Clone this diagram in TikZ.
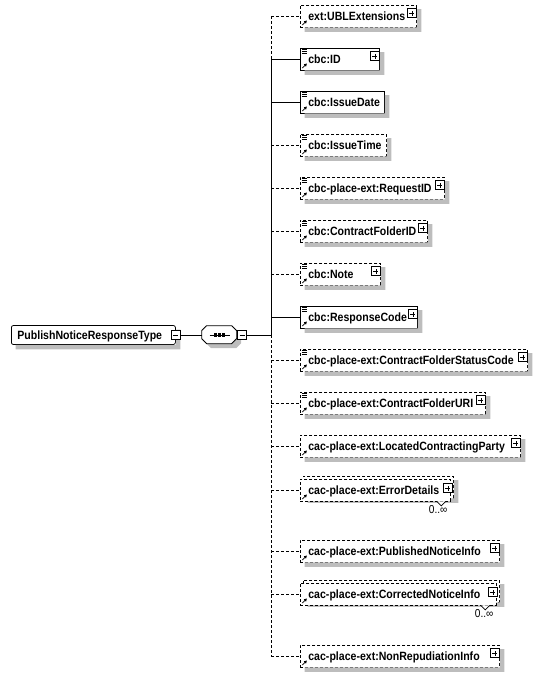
\documentclass[tikz,border=0pt]{standalone}
\usepackage{fontspec}
\setmainfont{Liberation Sans}[FakeStretch=0.88]
\usetikzlibrary{arrows.meta}
\definecolor{shadowgray}{rgb}{0.74,0.74,0.74}

\begin{document}
\begin{tikzpicture}[x=1pt, y=-1pt, line width=.75pt,
        font=\fontsize{12}{14}\selectfont\bfseries,
        optline/.style={dash pattern=on 3pt off 2pt},
        req/.style={draw, fill=white, anchor=west, inner sep=0pt, minimum height=22pt},
        opt/.style={req, optline},
        ref/.style={path picture={
            \draw[solid, line width=.8pt, -{Triangle[length=2.8pt, width=3pt]}]
                ([shift={(2pt,2pt)}]path picture bounding box.south west) -- ++(4.5pt,4.5pt);}},
        simple/.style={path picture={
            \draw[solid, line width=.8pt, -{Triangle[length=2.8pt, width=3pt]}]
                ([shift={(2pt,2pt)}]path picture bounding box.south west) -- ++(4.5pt,4.5pt);
            \foreach \k in {1.6,3.3,5} \draw[solid, line width=.6pt]
                ([shift={(1.5pt,-\k pt)}]path picture bounding box.north west) -- ++(5pt,0pt);}},
        lbl/.style={anchor=west, inner sep=0pt, text height=8.6pt, text depth=0pt},
        mult/.style={anchor=north east, inner sep=0pt, font=\fontsize{11.5}{13}\selectfont},
        shd/.style={fill=shadowgray, draw=none},
        pbox/.style={draw, solid, fill=white, line width=.6pt, minimum size=9pt, inner sep=0pt},
        plus/.style={pbox, anchor=east, path picture={
            \draw[line width=.6pt] ([xshift=2pt]path picture bounding box.west) -- ([xshift=-2pt]path picture bounding box.east)
                ([yshift=2pt]path picture bounding box.south) -- ([yshift=-2pt]path picture bounding box.north);}},
        minus/.style={pbox, path picture={
            \draw[line width=.6pt] ([xshift=2pt]path picture bounding box.west) -- ([xshift=-2pt]path picture bounding box.east);}},
        notch/.style={draw, solid, fill=white, line width=.6pt}]
    \useasboundingbox (0,0) rectangle (541,675);

    % root type and sequence
    \node[draw, fill=white, rounded corners=2pt, anchor=west, inner sep=0pt,
        minimum width=164pt, minimum height=19pt] (root) at (11,335) {};

    \node[inner sep=0pt, minimum width=35pt, minimum height=18pt] (seq) at (219.5,335) {};
    \path[shd] ([shift={(4.5pt,-4.5pt)}]seq.north west) ++(5pt,0pt) -- ++(25pt,0pt) -- ++(5pt,-5pt) -- ++(0pt,-8pt)
        -- ++(-5pt,-5pt) -- ++(-25pt,0pt) -- ++(-5pt,5pt) -- ++(0pt,8pt) -- cycle;
    \draw[fill=white] (seq.north west) ++(5pt,0pt) -- ++(25pt,0pt) -- ++(5pt,-5pt) -- ++(0pt,-8pt)
        -- ++(-5pt,-5pt) -- ++(-25pt,0pt) -- ++(-5pt,5pt) -- ++(0pt,8pt) -- cycle;
    \draw[line width=1pt] ([xshift=-10pt]seq.center) -- ([xshift=10pt]seq.center);
    \foreach \d in {-4,0,4}
        \fill ([xshift=\d pt]seq.center) +(-1.6pt,-1.6pt) rectangle +(1.6pt,1.6pt);

    \coordinate (spine) at (271,0);

    % children
    \node[opt, ref, minimum width=116pt] (ext) at (300,16) {};
    \node[req, simple, minimum width=79pt] (id) at (300,59) {};
    \node[req, simple, minimum width=84pt] (date) at (300,102) {};
    \node[opt, simple, minimum width=86pt] (time) at (300,145) {};
    \node[opt, simple, minimum width=144pt] (reqid) at (300,188) {};
    \node[opt, simple, minimum width=127pt] (folder) at (300,231) {};
    \node[opt, simple, minimum width=80pt] (note) at (300,274) {};
    \node[req, simple, minimum width=117pt] (code) at (300,317) {};
    \node[opt, simple, minimum width=227pt] (status) at (300,360) {};
    \node[opt, simple, minimum width=185pt] (uri) at (300,403) {};
    \node[opt, ref, minimum width=220pt] (party) at (300,446) {};
    \node[opt, minimum width=150pt] (err-b) at (303,487) {};
    \node[opt, ref, minimum width=199pt] (pub) at (300,551) {};
    \node[opt, minimum width=196pt] (corr-b) at (303,591) {};
    \node[opt, ref, minimum width=199pt] (nonrep) at (300,656) {};

    % shadows
    \foreach \n in {root,ext,id,date,time,reqid,folder,note,code,status,uri,party,err-b,pub,corr-b,nonrep}
        \path[shd] ([xshift=4.5pt]\n.south west) -- ([shift={(4.5pt,-4.5pt)}]\n.south west)
            -- ([shift={(4.5pt,-4.5pt)}]\n.south east) -- ([shift={(4.5pt,-4.5pt)}]\n.north east)
            -- ([yshift=-4.5pt]\n.north east) -- (\n.south east) -- cycle;

    \node[opt, ref, minimum width=150pt] (err) at (300,490) {};
    \draw[notch] ([xshift=-14pt]err.south east) -- ++(4.5pt,-4.5pt) -- ++(4.5pt,4.5pt);
    \node[mult] (err-n) at ([shift={(-3pt,-4pt)}]err.south east) {0..∞};

    \node[opt, ref, minimum width=196pt] (corr) at (300,594) {};
    \draw[notch] ([xshift=-16pt]corr.south east) -- ++(4.5pt,-4.5pt) -- ++(4.5pt,4.5pt);
    \node[mult] (corr-n) at ([shift={(-3pt,-4pt)}]corr.south east) {0..∞};

    % labels and icons
    \node[lbl] (root-t) at ([xshift=6pt]root.west) {PublishNoticeResponseType};
    \node[minus] (root-m) at (root.east) {};
    \node[minus, anchor=west] (seq-m) at (seq.east) {};

    \node[lbl] (ext-t) at ([xshift=8pt]ext.west) {ext:UBLExtensions};
    \node[plus] (ext-p) at ([yshift=3pt]ext.east) {};
    \node[lbl] (id-t) at ([xshift=8pt]id.west) {cbc:ID};
    \node[plus] (id-p) at ([yshift=3pt]id.east) {};
    \node[lbl] (date-t) at ([xshift=8pt]date.west) {cbc:IssueDate};
    \node[lbl] (time-t) at ([xshift=8pt]time.west) {cbc:IssueTime};
    \node[lbl] (reqid-t) at ([xshift=8pt]reqid.west) {cbc-place-ext:RequestID};
    \node[plus] (reqid-p) at ([yshift=3pt]reqid.east) {};
    \node[lbl] (folder-t) at ([xshift=8pt]folder.west) {cbc:ContractFolderID};
    \node[plus] (folder-p) at ([yshift=3pt]folder.east) {};
    \node[lbl] (note-t) at ([xshift=8pt]note.west) {cbc:Note};
    \node[plus] (note-p) at ([yshift=3pt]note.east) {};
    \node[lbl] (code-t) at ([xshift=8pt]code.west) {cbc:ResponseCode};
    \node[plus] (code-p) at ([yshift=3pt]code.east) {};
    \node[lbl] (status-t) at ([xshift=8pt]status.west) {cbc-place-ext:ContractFolderStatusCode};
    \node[plus] (status-p) at ([yshift=3pt]status.east) {};
    \node[lbl] (uri-t) at ([xshift=8pt]uri.west) {cbc-place-ext:ContractFolderURI};
    \node[plus] (uri-p) at ([yshift=3pt]uri.east) {};
    \node[lbl] (party-t) at ([xshift=8pt]party.west) {cac-place-ext:LocatedContractingParty};
    \node[plus] (party-p) at ([yshift=3pt]party.east) {};
    \node[lbl] (err-t) at ([xshift=8pt]err.west) {cac-place-ext:ErrorDetails};
    \node[plus] (err-p) at ([shift={(2pt,2pt)}]err.east) {};
    \node[lbl] (pub-t) at ([xshift=8pt]pub.west) {cac-place-ext:PublishedNoticeInfo};
    \node[plus] (pub-p) at ([yshift=3pt]pub.east) {};
    \node[lbl] (corr-t) at ([xshift=8pt]corr.west) {cac-place-ext:CorrectedNoticeInfo};
    \node[plus] (corr-p) at ([shift={(1pt,2pt)}]corr.east) {};
    \node[lbl] (nonrep-t) at ([xshift=8pt]nonrep.west) {cac-place-ext:NonRepudiationInfo};
    \node[plus] (nonrep-p) at ([yshift=3pt]nonrep.east) {};

    % connectors
    \draw (root-m) -- (seq);
    \draw (seq-m) -- (seq-m -| spine);
    \draw[optline] (ext.west -| spine) -- (id.west -| spine);
    \draw (id.west -| spine) -- (seq-m -| spine);
    \draw[optline] (seq-m -| spine) -- (nonrep.west -| spine);
    \draw (id.west -| spine) -- (id.west);
    \draw (date.west -| spine) -- (date.west);
    \draw (code.west -| spine) -- (code.west);
    \foreach \n in {ext,time,reqid,folder,note,status,uri,party,err,pub,corr,nonrep}
        \draw[optline] (\n.west -| spine) -- (\n.west);
\end{tikzpicture}
\end{document}
